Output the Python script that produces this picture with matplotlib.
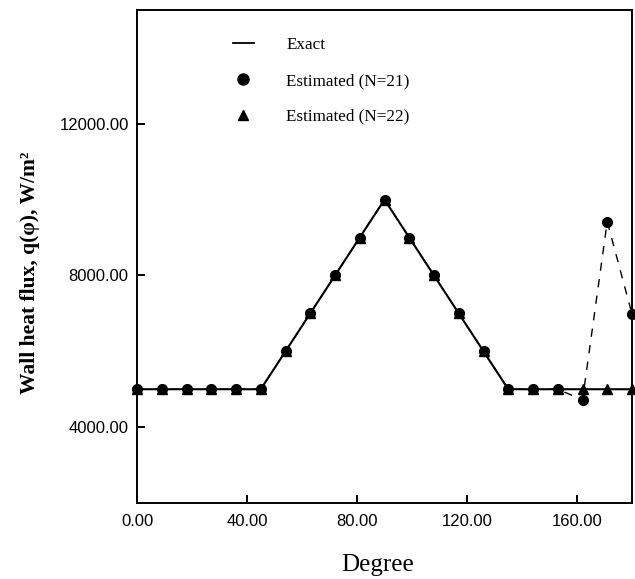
import matplotlib
matplotlib.use('Agg')
import matplotlib.pyplot as plt
from matplotlib.lines import Line2D
from matplotlib.ticker import FormatStrFormatter

# Data
exact_deg = [0, 45, 90, 135, 180]
exact_q = [5000, 5000, 10000, 5000, 5000]

deg = [0, 9, 18, 27, 36, 45, 54, 63, 72, 81, 90, 99, 108, 117, 126,
       135, 144, 153, 162, 171, 180]
est_n21 = [5000, 5000, 5000, 5000, 5000, 5000, 6000, 7000, 8000, 9000, 10000,
           9000, 8000, 7000, 6000, 5000, 5000, 5000, 4720, 9420, 6980]
est_n22 = [5000, 5000, 5000, 5000, 5000, 5000, 6000, 7000, 8000, 9000, 10000,
           9000, 8000, 7000, 6000, 5000, 5000, 5000, 5000, 5000, 5000]

x_ticks = [0, 40, 80, 120, 160]
y_ticks = [4000, 8000, 12000]

SERIF = 'Liberation Serif'
SANS = 'Liberation Sans'

fig = plt.figure(figsize=(6.35, 5.79), dpi=100)
ax = fig.add_axes([137 / 635, 1 - 503 / 579, 495 / 635, 493 / 579])

ax.plot(exact_deg, exact_q, color='black', lw=1.5, zorder=2)
ax.plot(deg, est_n21, color='black', lw=1.0, ls=(0, (6, 6)), zorder=1)
ax.plot(deg, est_n22, ls='none', marker='^', ms=6.5, color='black',
        clip_on=False, zorder=3)
ax.plot(deg, est_n21, ls='none', marker='o', ms=7, color='black',
        clip_on=False, zorder=4)

ax.set_xlim(0, 180)
ax.set_ylim(2000, 15000)
ax.set_xticks(x_ticks)
ax.set_yticks(y_ticks)
ax.xaxis.set_major_formatter(FormatStrFormatter('%.2f'))
ax.yaxis.set_major_formatter(FormatStrFormatter('%.2f'))
ax.tick_params(direction='in', length=6, width=1.4, top=False, right=False,
               labelsize=12)
ax.tick_params(axis='x', pad=8)
ax.tick_params(axis='y', pad=6)
for lab in ax.get_xticklabels() + ax.get_yticklabels():
    lab.set_fontfamily(SANS)
for sp in ax.spines.values():
    sp.set_linewidth(1.4)

ax.set_xlabel('Degree', fontsize=18, fontfamily=SERIF)
ax.xaxis.set_label_coords(0.487, -0.103)
ax.set_ylabel('Wall heat flux, q(φ), W/m²', fontsize=15.5,
              fontweight='bold', fontfamily=SERIF)
ax.yaxis.set_label_coords(-0.195, 0.467)

handles = [
    Line2D([], [], color='black', lw=1.3),
    Line2D([], [], ls='none', marker='o', ms=8, color='black'),
    Line2D([], [], ls='none', marker='^', ms=7.5, color='black'),
]
labels = ['Exact', 'Estimated (N=21)', 'Estimated (N=22)']
ax.legend(handles, labels, loc='upper left', bbox_to_anchor=(0.176, 0.962),
          frameon=False, borderpad=0, handlelength=1.25, handletextpad=1.9,
          labelspacing=1.15, prop={'family': SERIF, 'size': 12.3})

fig.savefig('out.png', dpi=100)
